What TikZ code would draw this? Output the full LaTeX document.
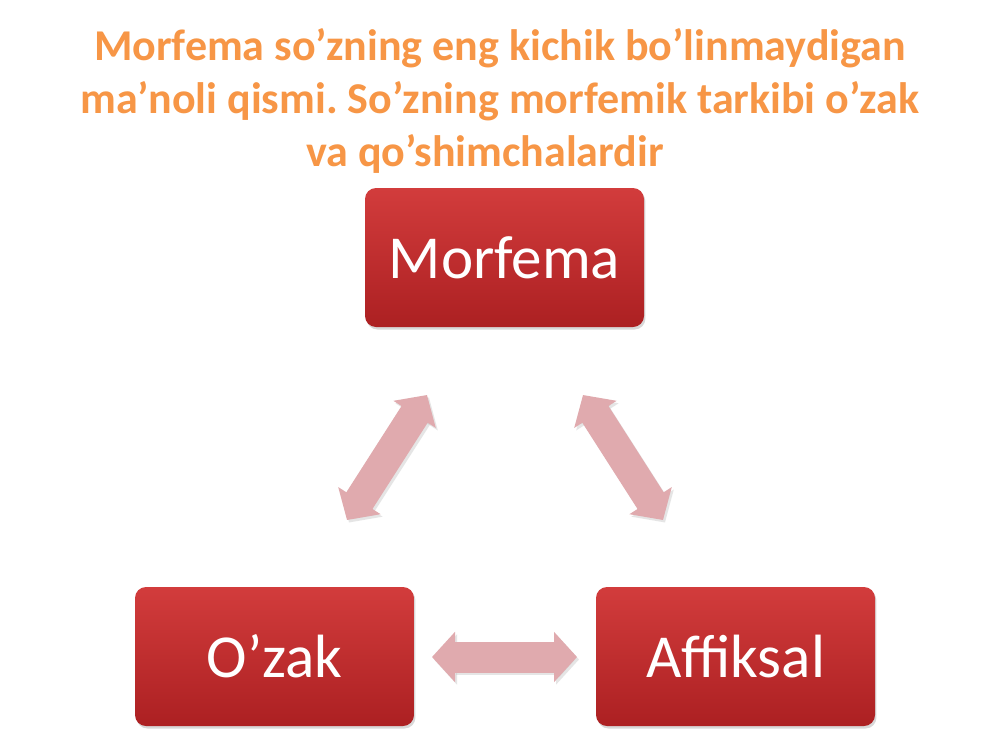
\documentclass[tikz,border=0pt]{standalone}
\usepackage{fontspec}
\setmainfont{Carlito}
\usetikzlibrary{arrows.meta,calc,shadows}
\definecolor{titleorange}{RGB}{247,150,70}
\definecolor{boxtop}{RGB}{210,60,60}
\definecolor{boxbot}{RGB}{172,32,34}
\definecolor{arrowpink}{RGB}{224,170,174}
\frenchspacing
\tikzset{
  redbox/.style={rounded corners=8.25pt, minimum width=209.25pt, minimum height=104.25pt,
    top color=boxtop, bottom color=boxbot, draw=none, text=white,
    font=\fontsize{45.8}{52}\selectfont, inner sep=0pt,
    drop shadow={shadow xshift=1.1pt, shadow yshift=-1.9pt, opacity=0.3}},
  title/.style={text=titleorange, font=\bfseries\fontsize{33}{40}\selectfont, anchor=base, inner sep=0pt},
  blockarrow/.style={draw=arrowpink, line width=23.25pt,
    {Triangle[width=36.75pt,length=17.25pt,fill=arrowpink]}-{Triangle[width=36.75pt,length=17.25pt,fill=arrowpink]}},
  blockshadow/.style={draw=black!25, opacity=0.4, line width=23.25pt,
    {Triangle[width=36.75pt,length=17.25pt]}-{Triangle[width=36.75pt,length=17.25pt]}}
}
\begin{document}
\begin{tikzpicture}[x=0.75pt,y=-0.75pt]
\useasboundingbox[fill=white] (0,0) rectangle (1000,750);
\node[title] (t1) at (500,60) {Morfema so’zning eng kichik bo’linmaydigan};
\node[title] (t2) at (500,113) {ma’noli qismi. So’zning morfemik tarkibi o’zak};
\node[title] (t3) at (485,166) {va qo’shimchalardir};
\node[redbox] (m) at (504.5,257.5) {Morfema};
\node[redbox] (o) at (274.5,656.5) {O’zak};
\node[redbox] (a) at (735.5,656.5) {Affiksal};
\coordinate (l1) at (347,520); \coordinate (l2) at (427,395);
\coordinate (r1) at (583,395); \coordinate (r2) at (663,520);
\coordinate (h1) at (432,657); \coordinate (h2) at (577,657);
\foreach \p/\q in {l1/l2,r1/r2,h1/h2}{
  \draw[blockshadow] ($(\p)+(2,2.5)$) -- ($(\q)+(2,2.5)$);
  \draw[blockarrow] (\p) -- (\q);
}
\end{tikzpicture}
\end{document}
